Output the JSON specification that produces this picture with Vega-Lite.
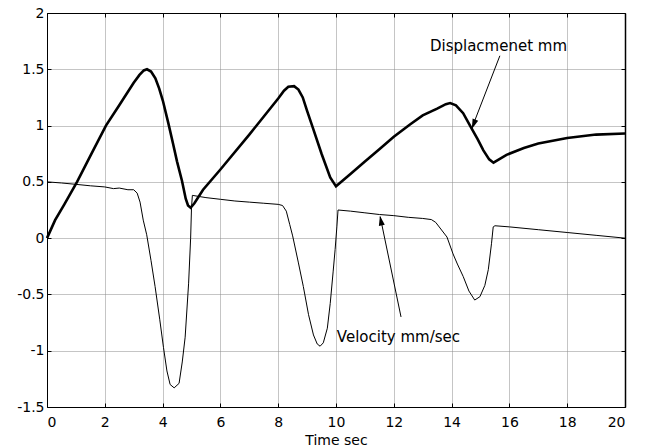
{
  "$schema": "https://vega.github.io/schema/vega-lite/v6.json",
  "width": 578,
  "height": 394,
  "autosize": {"type": "none"},
  "padding": {"left": 47, "top": 13, "right": 21, "bottom": 40},
  "background": "white",
  "config": {
    "view": {"stroke": null},
    "font": "DejaVu Sans",
    "axis": {
      "labelFont": "DejaVu Sans",
      "labelFontSize": 14,
      "labelColor": "black",
      "titleFont": "DejaVu Sans",
      "titleFontSize": 14,
      "titleFontWeight": "normal",
      "titleColor": "black",
      "tickColor": "black",
      "tickWidth": 1,
      "domainColor": "black",
      "domainWidth": 1,
      "gridColor": "#8a8a8a",
      "gridDash": [1, 1],
      "gridOpacity": 1,
      "gridWidth": 1
    }
  },
  "datasets": {
    "disp": [
      {"t": 0, "v": 0}, {"t": 0.28, "v": 0.16}, {"t": 0.6, "v": 0.3}, {"t": 1.04, "v": 0.5},
      {"t": 1.5, "v": 0.73}, {"t": 2.04, "v": 1.0}, {"t": 2.5, "v": 1.18}, {"t": 3.0, "v": 1.38},
      {"t": 3.2, "v": 1.45}, {"t": 3.35, "v": 1.49}, {"t": 3.46, "v": 1.5}, {"t": 3.6, "v": 1.48},
      {"t": 3.75, "v": 1.42}, {"t": 3.88, "v": 1.33},
      {"t": 4.01, "v": 1.22}, {"t": 4.2, "v": 1.02}, {"t": 4.36, "v": 0.84}, {"t": 4.5, "v": 0.68},
      {"t": 4.67, "v": 0.51}, {"t": 4.8, "v": 0.35}, {"t": 4.88, "v": 0.29}, {"t": 4.97, "v": 0.27},
      {"t": 5.1, "v": 0.31}, {"t": 5.4, "v": 0.43}, {"t": 6.0, "v": 0.61}, {"t": 7.0, "v": 0.92},
      {"t": 8.0, "v": 1.24}, {"t": 8.2, "v": 1.31}, {"t": 8.35, "v": 1.345}, {"t": 8.55, "v": 1.35},
      {"t": 8.7, "v": 1.32}, {"t": 8.85, "v": 1.25},
      {"t": 9.0, "v": 1.13}, {"t": 9.2, "v": 0.98}, {"t": 9.5, "v": 0.75}, {"t": 9.8, "v": 0.54},
      {"t": 10.0, "v": 0.46}, {"t": 10.5, "v": 0.57}, {"t": 11.0, "v": 0.68}, {"t": 11.5, "v": 0.79},
      {"t": 12.0, "v": 0.9}, {"t": 12.56, "v": 1.01}, {"t": 13.0, "v": 1.09}, {"t": 13.5, "v": 1.15},
      {"t": 13.8, "v": 1.19}, {"t": 13.95, "v": 1.2}, {"t": 14.15, "v": 1.18}, {"t": 14.4, "v": 1.11},
      {"t": 14.7, "v": 0.97},
      {"t": 14.9, "v": 0.88}, {"t": 15.1, "v": 0.78}, {"t": 15.3, "v": 0.7}, {"t": 15.45, "v": 0.67},
      {"t": 15.9, "v": 0.74}, {"t": 16.5, "v": 0.8}, {"t": 17.0, "v": 0.84}, {"t": 18.0, "v": 0.89},
      {"t": 19.0, "v": 0.92}, {"t": 20.0, "v": 0.93}
    ],
    "vel": [
      {"t": 0, "v": 0.5}, {"t": 0.5, "v": 0.49}, {"t": 1.0, "v": 0.478}, {"t": 1.5, "v": 0.465},
      {"t": 2.0, "v": 0.455}, {"t": 2.3, "v": 0.44}, {"t": 2.5, "v": 0.445}, {"t": 2.8, "v": 0.43},
      {"t": 3.0, "v": 0.43}, {"t": 3.12, "v": 0.4}, {"t": 3.22, "v": 0.32}, {"t": 3.33, "v": 0.16}, {"t": 3.45, "v": 0.03},
      {"t": 3.6, "v": -0.2}, {"t": 3.74, "v": -0.43}, {"t": 3.9, "v": -0.72}, {"t": 4.03, "v": -0.97},
      {"t": 4.15, "v": -1.18}, {"t": 4.26, "v": -1.3}, {"t": 4.4, "v": -1.33}, {"t": 4.57, "v": -1.29},
      {"t": 4.68, "v": -1.1}, {"t": 4.78, "v": -0.88}, {"t": 4.9, "v": -0.4}, {"t": 4.97, "v": 0.0},
      {"t": 5.0, "v": 0.27}, {"t": 5.03, "v": 0.38}, {"t": 5.5, "v": 0.36}, {"t": 6.0, "v": 0.345},
      {"t": 6.5, "v": 0.33}, {"t": 7.0, "v": 0.32}, {"t": 7.5, "v": 0.31}, {"t": 8.0, "v": 0.3},
      {"t": 8.15, "v": 0.29}, {"t": 8.28, "v": 0.24}, {"t": 8.4, "v": 0.12}, {"t": 8.5, "v": 0.02}, {"t": 8.7, "v": -0.22},
      {"t": 8.87, "v": -0.43}, {"t": 9.05, "v": -0.68}, {"t": 9.22, "v": -0.86}, {"t": 9.35, "v": -0.94},
      {"t": 9.45, "v": -0.96}, {"t": 9.56, "v": -0.93}, {"t": 9.7, "v": -0.8}, {"t": 9.8, "v": -0.58},
      {"t": 9.9, "v": -0.3}, {"t": 9.97, "v": -0.1}, {"t": 10.03, "v": 0.1}, {"t": 10.07, "v": 0.25},
      {"t": 10.5, "v": 0.24}, {"t": 11.0, "v": 0.225}, {"t": 11.5, "v": 0.21}, {"t": 12.0, "v": 0.2},
      {"t": 12.5, "v": 0.185}, {"t": 13.0, "v": 0.175}, {"t": 13.3, "v": 0.165}, {"t": 13.45, "v": 0.14}, {"t": 13.6, "v": 0.09},
      {"t": 13.84, "v": 0.01}, {"t": 14.05, "v": -0.14}, {"t": 14.2, "v": -0.23}, {"t": 14.4, "v": -0.34},
      {"t": 14.6, "v": -0.47}, {"t": 14.8, "v": -0.55}, {"t": 14.98, "v": -0.52}, {"t": 15.15, "v": -0.42},
      {"t": 15.27, "v": -0.28}, {"t": 15.38, "v": -0.05}, {"t": 15.44, "v": 0.1}, {"t": 15.5, "v": 0.11},
      {"t": 16.0, "v": 0.1}, {"t": 17.0, "v": 0.075}, {"t": 18.0, "v": 0.05}, {"t": 19.0, "v": 0.025},
      {"t": 20.0, "v": 0.0}
    ],
    "arrows": [
      {"id": "disp", "t": 15.67, "v": 1.62}, {"id": "disp", "t": 14.72, "v": 0.99},
      {"id": "vel", "t": 12.25, "v": -0.7}, {"id": "vel", "t": 11.53, "v": 0.19}
    ],
    "heads_disp": [{"t": 14.7, "v": 0.97}],
    "heads_vel": [{"t": 11.52, "v": 0.2}],
    "labels": [
      {"t": 13.25, "v": 1.71, "text": "Displacmenet mm"},
      {"t": 10.03, "v": -0.88, "text": "Velocity mm/sec"}
    ]
  },
  "layer": [
    {
      "data": {"name": "disp"},
      "mark": {"type": "line", "color": "black", "strokeWidth": 2.6},
      "encoding": {
        "x": {"field": "t", "type": "quantitative", "scale": {"domain": [0, 20], "nice": false},
          "axis": {"title": "Time sec", "values": [0, 2, 4, 6, 8, 10, 12, 14, 16, 18, 20], "labelExpr": "'' + datum.value",
            "grid": true, "ticks": false, "labelPadding": 8, "titlePadding": 4, "domain": true}},
        "y": {"field": "v", "type": "quantitative", "scale": {"domain": [-1.5, 2], "nice": false, "zero": false},
          "axis": {"title": null, "values": [-1.5, -1, -0.5, 0, 0.5, 1, 1.5, 2], "labelExpr": "'' + datum.value",
            "grid": true, "ticks": false, "labelPadding": 3, "domain": true}}
      }
    },
    {
      "data": {"name": "vel"},
      "mark": {"type": "line", "color": "black", "strokeWidth": 1},
      "encoding": {
        "x": {"field": "t", "type": "quantitative", "scale": {"domain": [0, 20], "nice": false},
          "axis": {"orient": "top", "title": null, "labels": false, "ticks": false, "grid": false, "domain": true}},
        "y": {"field": "v", "type": "quantitative", "scale": {"domain": [-1.5, 2], "nice": false, "zero": false},
          "axis": {"orient": "right", "title": null, "labels": false, "ticks": false, "grid": false, "domain": true, "domainWidth": 1.5}}
      }
    },
    {
      "data": {"name": "arrows"},
      "mark": {"type": "line", "color": "black", "strokeWidth": 1},
      "encoding": {
        "x": {"field": "t", "type": "quantitative",
          "axis": {"orient": "bottom", "title": null, "values": [0, 2, 4, 6, 8, 10, 12, 14, 16, 18, 20], "labels": false,
            "grid": false, "domain": false, "ticks": true, "tickSize": 4, "offset": -4}},
        "y": {"field": "v", "type": "quantitative",
          "axis": {"orient": "left", "title": null, "values": [-1.5, -1, -0.5, 0, 0.5, 1, 1.5, 2], "labels": false,
            "grid": false, "domain": false, "ticks": true, "tickSize": 4, "offset": -4}},
        "detail": {"field": "id"}
      }
    },
    {
      "data": {"name": "heads_disp"},
      "mark": {"type": "point", "shape": "M0,0L-0.3,1L0.3,1Z", "filled": true, "color": "black", "opacity": 1, "size": 400, "angle": 201},
      "encoding": {
        "x": {"field": "t", "type": "quantitative",
          "axis": {"orient": "top", "title": null, "values": [0, 2, 4, 6, 8, 10, 12, 14, 16, 18, 20], "labels": false,
            "grid": false, "domain": false, "ticks": true, "tickSize": 4, "offset": -4}},
        "y": {"field": "v", "type": "quantitative",
          "axis": {"orient": "right", "title": null, "values": [-1.5, -1, -0.5, 0, 0.5, 1, 1.5, 2], "labels": false,
            "grid": false, "domain": false, "ticks": true, "tickSize": 4, "offset": -4}}
      }
    },
    {
      "data": {"name": "heads_vel"},
      "mark": {"type": "point", "shape": "M0,0L-0.3,1L0.3,1Z", "filled": true, "color": "black", "opacity": 1, "size": 400, "angle": 349},
      "encoding": {
        "x": {"field": "t", "type": "quantitative", "axis": null},
        "y": {"field": "v", "type": "quantitative", "axis": null}
      }
    },
    {
      "data": {"name": "labels"},
      "mark": {"type": "text", "align": "left", "baseline": "middle", "font": "DejaVu Sans", "fontSize": 15, "color": "black"},
      "encoding": {
        "x": {"field": "t", "type": "quantitative", "axis": null},
        "y": {"field": "v", "type": "quantitative", "axis": null},
        "text": {"field": "text"}
      }
    }
  ],
  "resolve": {"axis": {"x": "independent", "y": "independent"}}
}
